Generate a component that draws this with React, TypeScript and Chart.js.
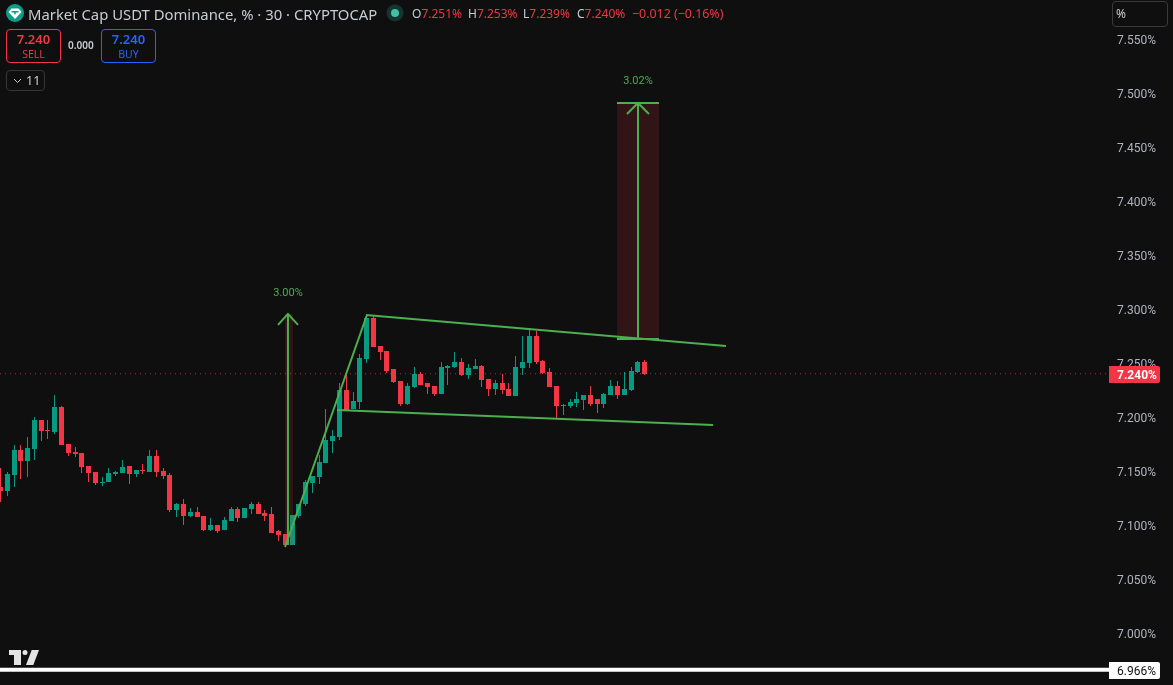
import React, { useEffect, useRef } from "react";
import { Chart, registerables } from "chart.js";

Chart.register(...registerables);

const opens = [7.135,7.131,7.146,7.169,7.159,7.170,7.197,7.188,7.186,7.209,7.175,7.168,7.167,7.155,7.149,7.139,7.140,7.147,7.148,7.155,7.147,7.151,7.149,7.164,7.150,7.146,7.114,7.119,7.108,7.112,7.108,7.095,7.100,7.095,7.104,7.115,7.106,7.115,7.119,7.111,7.110,7.094,7.092,7.081,7.108,7.119,7.139,7.144,7.157,7.178,7.181,7.225,7.207,7.214,7.254,7.292,7.266,7.261,7.244,7.233,7.212,7.228,7.240,7.231,7.229,7.221,7.245,7.246,7.251,7.239,7.244,7.247,7.235,7.226,7.231,7.226,7.219,7.245,7.250,7.275,7.252,7.242,7.229,7.211,7.210,7.213,7.216,7.220,7.217,7.212,7.220,7.229,7.220,7.225,7.242,7.251];
const highs = [7.153,7.149,7.174,7.174,7.181,7.200,7.197,7.197,7.220,7.210,7.175,7.172,7.167,7.155,7.149,7.144,7.153,7.150,7.160,7.155,7.151,7.156,7.169,7.169,7.153,7.148,7.120,7.124,7.116,7.117,7.108,7.106,7.100,7.107,7.117,7.117,7.116,7.121,7.121,7.114,7.117,7.095,7.092,7.109,7.119,7.142,7.145,7.165,7.207,7.188,7.231,7.239,7.223,7.258,7.294,7.294,7.266,7.261,7.244,7.233,7.231,7.246,7.242,7.231,7.229,7.251,7.248,7.260,7.255,7.249,7.254,7.248,7.235,7.234,7.240,7.231,7.256,7.275,7.282,7.280,7.253,7.245,7.229,7.212,7.217,7.223,7.220,7.229,7.217,7.222,7.234,7.233,7.242,7.246,7.252,7.253];
const lows = [7.121,7.127,7.135,7.143,7.144,7.160,7.178,7.180,7.184,7.174,7.164,7.163,7.148,7.140,7.137,7.136,7.140,7.145,7.148,7.138,7.144,7.147,7.149,7.144,7.143,7.112,7.107,7.100,7.107,7.107,7.094,7.094,7.093,7.095,7.104,7.103,7.106,7.110,7.110,7.104,7.093,7.085,7.081,7.081,7.106,7.118,7.130,7.138,7.157,7.167,7.179,7.206,7.207,7.207,7.250,7.265,7.253,7.241,7.231,7.210,7.211,7.227,7.230,7.221,7.219,7.221,7.230,7.245,7.238,7.235,7.244,7.228,7.219,7.220,7.221,7.219,7.219,7.239,7.245,7.249,7.240,7.228,7.198,7.202,7.208,7.209,7.206,7.210,7.204,7.208,7.220,7.217,7.220,7.224,7.241,7.239];
const closes = [7.131,7.147,7.169,7.159,7.171,7.197,7.187,7.187,7.209,7.174,7.167,7.166,7.154,7.148,7.139,7.140,7.148,7.149,7.154,7.147,7.151,7.150,7.164,7.149,7.145,7.114,7.119,7.108,7.112,7.107,7.095,7.100,7.094,7.105,7.115,7.106,7.116,7.119,7.110,7.108,7.093,7.091,7.081,7.109,7.119,7.140,7.145,7.158,7.179,7.182,7.225,7.206,7.215,7.255,7.292,7.265,7.260,7.243,7.232,7.212,7.229,7.240,7.230,7.228,7.221,7.246,7.247,7.251,7.239,7.245,7.247,7.234,7.226,7.231,7.225,7.219,7.246,7.251,7.275,7.251,7.241,7.228,7.210,7.210,7.214,7.217,7.220,7.212,7.212,7.221,7.229,7.220,7.226,7.243,7.251,7.240];

const yTickValues = [7.55,7.5,7.45,7.4,7.35,7.3,7.25,7.2,7.15,7.1,7.05,7.0];
const lastPrice = 7.24;
const lowLevel = 6.966;
const xMin = -0.0737;
const xMax = 163.5;
const yMin = 6.9518;
const yMax = 7.5861;

// Drawings, in bar index / price
const channelTop = [[53.91,7.2944],[107.0,7.2657]];
const channelBottom = [[49.63,7.2065],[105.1,7.1926]];
const poleLine = [[41.96,7.0796],[54.05,7.2944]];
const arrowOneShaft = [[42.4,7.0815],[42.4,7.2954]];
const arrowOneHead = [[40.93,7.2852],[42.4,7.2954],[43.88,7.2852]];
const arrowTwoShaft = [[94.03,7.2722],[94.03,7.4907]];
const arrowTwoHead = [[92.4,7.4805],[94.03,7.4907],[95.65,7.4805]];
const targetTop = [[90.93,7.4907],[97.12,7.4907]];
const targetBottom = [[90.93,7.2722],[97.12,7.2722]];
const boxOne = { x: 42.55, low: 7.0815, high: 7.2954 };
const boxTwo = { x: 94.03, low: 7.2722, high: 7.4907 };
const percentLabels = [
  { text: "3.00%", x: 42.4, y: 7.3149 },
  { text: "3.02%", x: 94.03, y: 7.5111 },
];

const UP = "#089981";
const DOWN = "#F23645";
const GREEN = "#4CAF50";
const FONT = '"Noto Sans", sans-serif';
const AXIS_FONT = 'Roboto, sans-serif';

const colors = opens.map((o, i) => (closes[i] >= o ? UP : DOWN));

const lineSet = (pts: number[][], extra: any = {}) => ({
  type: "line",
  data: pts.map(([x, y]) => ({ x, y })),
  borderColor: GREEN,
  borderWidth: 2,
  pointRadius: 0,
  tension: 0,
  order: 1,
  ...extra,
});

const snapPlugin = {
  id: "snap",
  afterDatasetsUpdate(chart: any) {
    chart.data.datasets.forEach((ds: any, di: number) => {
      if (!ds.snap) return;
      chart.getDatasetMeta(di).data.forEach((el: any) => {
        el.x = Math.floor(el.x) + 0.5;
        const top = Math.round(Math.min(el.y, el.base));
        let bottom = Math.round(Math.max(el.y, el.base));
        if (bottom <= top) bottom = top + 1;
        el.y = top;
        el.base = bottom;
      });
    });
  },
};

const tagsPlugin = {
  id: "tags",
  afterDraw(chart: any) {
    const { ctx, chartArea } = chart;
    const sx = chart.scales.x;
    const sy = chart.scales.y;
    ctx.save();
    ctx.textBaseline = "middle";
    ctx.font = `11px ${AXIS_FONT}`;
    ctx.fillStyle = GREEN;
    ctx.textAlign = "center";
    percentLabels.forEach((l) => ctx.fillText(l.text, sx.getPixelForValue(l.x), sy.getPixelForValue(l.y)));
    ctx.textAlign = "left";
    const tag = (v: number, bg: string, fg: string, weight: string) => {
      const y = Math.round(sy.getPixelForValue(v));
      ctx.fillStyle = bg;
      ctx.beginPath();
      ctx.roundRect(chartArea.right, y - 8, 51, 17, [0, 2, 2, 0]);
      ctx.fill();
      ctx.fillStyle = fg;
      ctx.font = `${weight} 12px ${AXIS_FONT}`;
      ctx.fillText(v.toFixed(3) + "%", chartArea.right + 8, y + 2);
    };
    tag(lastPrice, DOWN, "#ffffff", "bold");
    tag(lowLevel, "#ffffff", "#111111", "normal");
    ctx.restore();
  },
};

const box: React.CSSProperties = { position: "absolute", boxSizing: "border-box", borderRadius: 4, textAlign: "center" };
const abs = (left: number, top: number, extra: React.CSSProperties = {}): React.CSSProperties => ({
  position: "absolute", left, top, whiteSpace: "nowrap", ...extra,
});

export default function App() {
  const ref = useRef<HTMLCanvasElement>(null);
  useEffect(() => {
    const idx = opens.map((_, i) => i);
    const chart = new Chart(ref.current!, {
      type: "bar",
      data: {
        datasets: [
          {
            data: idx.map((i) => ({ x: i, y: [lows[i], highs[i]] })),
            backgroundColor: colors,
            barThickness: 1,
            grouped: false,
            inflateAmount: 0,
            order: 4,
            snap: true,
          },
          {
            data: idx.map((i) => ({ x: i, y: [opens[i], closes[i]] })),
            backgroundColor: colors,
            barThickness: 5,
            grouped: false,
            inflateAmount: 0,
            order: 3,
            snap: true,
          },
          {
            data: [{ x: boxOne.x, y: [boxOne.low, boxOne.high] }],
            backgroundColor: "rgba(242,54,69,0.15)",
            barThickness: 8,
            grouped: false,
            inflateAmount: 0,
            order: 2,
          },
          {
            data: [{ x: boxTwo.x, y: [boxTwo.low, boxTwo.high] }],
            backgroundColor: "rgba(242,54,69,0.15)",
            barThickness: 42,
            grouped: false,
            inflateAmount: 0,
            order: 2,
          },
          lineSet([[xMin, lastPrice],[xMax, lastPrice]], { borderColor: "rgba(242,54,69,0.75)", borderWidth: 1, borderDash: [1, 4], order: 5 }),
          lineSet([[xMin, lowLevel],[xMax, lowLevel]], { borderColor: "#ffffff", borderWidth: 4 }),
          lineSet(channelTop),
          lineSet(channelBottom),
          lineSet(poleLine),
          lineSet(arrowOneShaft),
          lineSet(arrowOneHead),
          lineSet(arrowTwoShaft),
          lineSet(arrowTwoHead),
          lineSet(targetTop),
          lineSet(targetBottom),
        ] as any,
      },
      options: {
        animation: false,
        responsive: false,
        events: [],
        layout: { padding: 0 },
        plugins: { legend: { display: false }, tooltip: { enabled: false } },
        scales: {
          x: { type: "linear", display: false, offset: false, min: xMin, max: xMax, grid: { display: false } },
          y: {
            position: "right",
            min: yMin,
            max: yMax,
            offset: false,
            grid: { display: false, drawTicks: false },
            border: { display: false },
            afterBuildTicks: (s: any) => { s.ticks = yTickValues.map((value) => ({ value })); },
            afterFit: (s: any) => { s.width = 64; s.paddingTop = 0; s.paddingBottom = 0; s.paddingLeft = 0; s.paddingRight = 0; },
            ticks: {
              autoSkip: false,
              padding: 8,
              labelOffset: 2,
              color: "#b2b5be",
              font: { size: 12, family: AXIS_FONT },
              callback: (v: any) => Number(v).toFixed(3) + "%",
            },
          },
        },
      } as any,
      plugins: [snapPlugin, tagsPlugin] as any,
    });
    return () => chart.destroy();
  }, []);

  const red = "#F23645";
  const gray = "#c9ccd4";
  const ohlc = [
    { left: 412, k: "O", v: "7.251%" },
    { left: 468, k: "H", v: "7.253%" },
    { left: 523, k: "L", v: "7.239%" },
    { left: 577, k: "C", v: "7.240%" },
  ];
  return (
    <div style={{ position: "fixed", inset: 0, background: "#0f0f0f", overflow: "hidden", fontFamily: FONT }}>
      <canvas ref={ref} width={1173} height={685} style={{ position: "absolute", left: 0, top: 0, display: "block" }} />
      <svg width={18} height={18} style={{ position: "absolute", left: 6, top: 4 }} viewBox="0 0 18 18">
        <circle cx={9} cy={9} r={9} fill="#0f9d8a" />
        <path d="M5.5 4.5 H12.5 L15.5 8 L9 15 L2.5 8 Z M5.5 7 H12.5 V8.6 H10 L9 11.5 L8 8.6 H5.5 Z" fill="#ffffff" fillRule="evenodd" />
      </svg>
      <div style={abs(28, 4, { fontSize: 14.85, lineHeight: "20px", color: gray })}>Market Cap USDT Dominance, % · 30 · CRYPTOCAP</div>
      <svg width={18} height={18} style={{ position: "absolute", left: 386, top: 4 }} viewBox="0 0 18 18">
        <circle cx={9} cy={9} r={8.5} fill="#16342f" />
        <circle cx={9} cy={9} r={4} fill="#3fc1a5" />
      </svg>
      {ohlc.map((g) => (
        <div key={g.k} style={abs(g.left, 5, { fontSize: 12, lineHeight: "17px", color: red })}>
          <span style={{ color: gray }}>{g.k}</span>{g.v}
        </div>
      ))}
      <div style={abs(632, 5, { fontSize: 12.4, lineHeight: "17px", color: red })}>−0.012 (−0.16%)</div>
      <div style={{ ...box, left: 6, top: 29, width: 55, height: 34, border: `1px solid ${red}`, color: red }}>
        <div style={{ fontSize: 13, fontWeight: 600, lineHeight: "16px", marginTop: 1 }}>7.240</div>
        <div style={{ fontSize: 10.5, lineHeight: "14px" }}>SELL</div>
      </div>
      <div style={abs(68, 38, { fontSize: 10, fontWeight: 600, lineHeight: "14px", color: gray })}>0.000</div>
      <div style={{ ...box, left: 101, top: 29, width: 55, height: 34, border: "1px solid #2962ff", color: "#2962ff" }}>
        <div style={{ fontSize: 13, fontWeight: 600, lineHeight: "16px", marginTop: 1 }}>7.240</div>
        <div style={{ fontSize: 10.5, lineHeight: "14px" }}>BUY</div>
      </div>
      <div style={{ ...box, left: 6, top: 70, width: 39, height: 21, border: "1px solid #363636", color: gray, fontSize: 12.5, lineHeight: "19px" }}>
        <svg width={9} height={6} style={{ position: "absolute", left: 6, top: 7 }} viewBox="0 0 9 6">
          <path d="M1 1 L4.5 4.5 L8 1" fill="none" stroke={gray} strokeWidth={1} />
        </svg>
        <span style={{ position: "absolute", left: 19, top: 0 }}>11</span>
      </div>
      <div style={{ ...box, left: 1112, top: 1, width: 56, height: 26, border: "1px solid #3a3a3a", color: gray, textAlign: "left", paddingLeft: 3, fontSize: 12, lineHeight: "24px" }}>%</div>
      <svg width={32} height={17} style={{ position: "absolute", left: 8, top: 649 }} viewBox="0 0 32 17">
        <path d="M1 1 H13 V16 H6 V6 H1 Z" fill="#e4e4e4" />
        <circle cx={17} cy={3.5} r={2.5} fill="#e4e4e4" />
        <path d="M23.7 1 H31 L25.3 16 H18 Z" fill="#e4e4e4" />
      </svg>
    </div>
  );
}
